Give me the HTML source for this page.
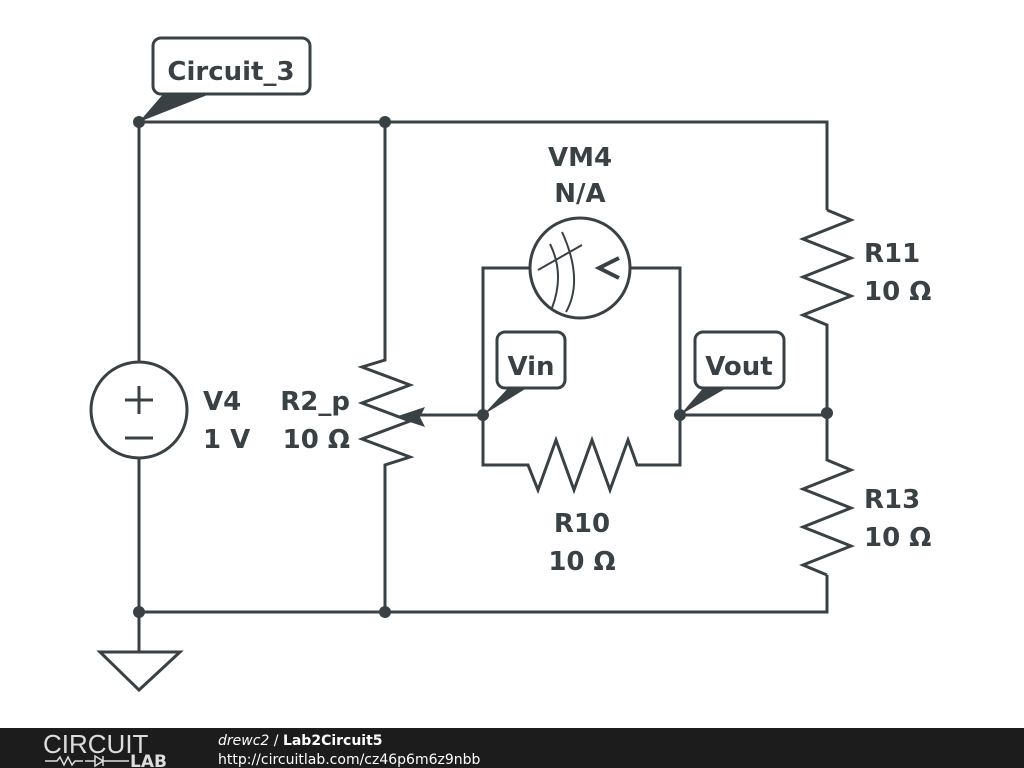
<!DOCTYPE html>
<html><head><style>
body{margin:0;width:1024px;height:768px;background:#fff;overflow:hidden;position:relative;font-family:"DejaVu Sans","Liberation Sans",sans-serif}
svg{position:absolute;left:0;top:0}
.t{font-family:"DejaVu Sans","Liberation Sans",sans-serif;font-weight:bold;font-size:26px;fill:#3a4145}
</style></head><body>
<svg width="1024" height="768" viewBox="0 0 1024 768">
<g stroke="#3a4145" stroke-width="3" fill="none" stroke-linejoin="miter">
<path d="M139 122H827V210M139 122V362M139 458V612H827V575M385 122V360L362 367 410 385 362 403 410 421 362 439 410 457 385 465V612"/>
<path d="M827 210l24 10-48 19 48 19-48 19 48 19-48 19 24 10V460l24 10-48 19 48 19-48 19 48 19-48 19 24 10"/>
<path d="M483 415V268H530M630 268H680V465H637l-9 -25-18 50-18-50-18 50-18-50-18 50-10-25H483V415M483 415H410M680 415H827"/>
<circle cx="139" cy="410" r="48"/>
<circle cx="580" cy="268" r="50"/>
<path d="M139 612V652M100 652H180L139 690Z"/>
<path d="M125 400h28M139 386v28M125 438h28"/>
<path d="M538 270L582 245M550 244q15 30 2 64M562 232q22 48 4 80" stroke-width="2"/>
<path d="M619 258l-20 10 20 10" stroke-width="4"/>
</g>
<path d="M395 417l30-10-5 10 5 10z" fill="#3a4145"/>
<g fill="#3a4145">
<circle cx="139" cy="122" r="6"/><circle cx="385" cy="122" r="6"/>
<circle cx="139" cy="612" r="6"/><circle cx="385" cy="612" r="6"/>
<circle cx="827" cy="413" r="6"/><circle cx="483" cy="415" r="6"/><circle cx="680" cy="415" r="6"/>
<path d="M139 122L165 92H215Z"/><path d="M483 415L510 386H530Z"/><path d="M680 415L705 386H730Z"/>
</g>
<g fill="#fff" stroke="#3a4145" stroke-width="3">
<rect x="153" y="38" width="157" height="56" rx="8"/>
<rect x="497" y="332" width="68" height="56" rx="8"/>
<rect x="695" y="332" width="89" height="56" rx="8"/>
</g>
<text class="t" x="231" y="80" text-anchor="middle">Circuit_3</text>
<text class="t" x="531" y="375" text-anchor="middle">Vin</text>
<text class="t" x="739" y="375" text-anchor="middle">Vout</text>
<text class="t" x="580" y="166" text-anchor="middle">VM4</text>
<text class="t" x="580" y="202" text-anchor="middle">N/A</text>
<text class="t" x="864" y="262">R11</text><text class="t" x="864" y="300">10 Ω</text>
<text class="t" x="864" y="508">R13</text><text class="t" x="864" y="546">10 Ω</text>
<text class="t" x="582" y="532" text-anchor="middle">R10</text><text class="t" x="582" y="570" text-anchor="middle">10 Ω</text>
<text class="t" x="203" y="410">V4</text><text class="t" x="203" y="448">1 V</text>
<text class="t" x="350" y="410" text-anchor="end">R2_p</text><text class="t" x="350" y="448" text-anchor="end">10 Ω</text>
<rect x="0" y="728" width="1024" height="40" fill="#1c1c1c"/>
<text x="43" y="753" font-size="26" fill="#ddd" style="font-family:'Liberation Sans',sans-serif;font-weight:300">CIRCUIT</text>
<path d="M45 761h12l3-4 4 8 4-8 4 8 3-4h8M85 761h10M95 756v10l8-5z M103 756v10M103 761h26" stroke="#ddd" stroke-width="1.5" fill="none"/>
<text x="130" y="767" font-size="17" font-weight="bold" fill="#ddd">LAB</text>
<text x="218" y="745" font-size="14" fill="#fff"><tspan font-style="italic">drewc2</tspan> / <tspan font-weight="bold">Lab2Circuit5</tspan></text>
<text x="218" y="764" font-size="14" fill="#fff">http://circuitlab.com/cz46p6m6z9nbb</text>
</svg>
</body></html>
